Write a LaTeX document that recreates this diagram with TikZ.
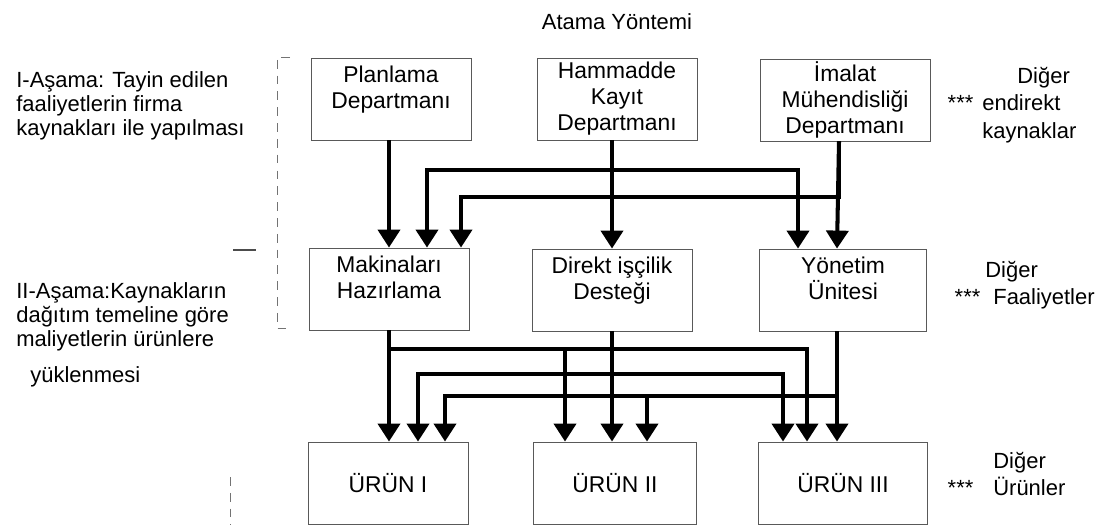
\documentclass[tikz,border=0pt]{standalone}
\usepackage{fontspec}
\setmainfont{Liberation Sans}
\usetikzlibrary{arrows.meta,calc}

\begin{document}
\begin{tikzpicture}[x=0.02cm, y=-0.02cm,
  every node/.style={inner sep=0pt, font=\fontsize{12.5}{14.2}\selectfont},
  box/.style={draw=black!65, line width=0.5pt, minimum width=3.2cm, minimum height=1.64cm, align=center, font=\fontsize{13}{14.8}\selectfont},
  txt/.style={anchor=north west, align=left, font=\fontsize{12.5}{13.6}\selectfont},
  side/.style={anchor=north west, align=left, font=\fontsize{12.5}{15.5}\selectfont},
  flow/.style={-{Triangle[length=0.36cm, width=0.44cm]}, line width=2.3pt},
  brk/.style={black!55, line width=0.4pt, dash pattern=on 5pt off 4pt}]
\useasboundingbox (0,0) rectangle (1109,525);

\node[anchor=north] (title) at (617,13) {Atama Yöntemi};
\node[txt] (s1) at (16,71) {I-Aşama: Tayin edilen\\faaliyetlerin firma\\kaynakları ile yapılması};
\node[txt] (s2) at (16,282) {II-Aşama:Kaynakların\\dağıtım temeline göre\\maliyetlerin ürünlere\\[0.25cm]\hspace*{0.28cm}yüklenmesi};

\node[box] (A1) at (391,99) {Planlama\\Departmanı\\[-6pt]\strut};
\node[box] (A2) at (617,99) {Hammadde\\Kayıt\\Departmanı};
\node[box, minimum width=3.4cm] (A3) at (845,100) {İmalat\\Mühendisliği\\Departmanı};
\node[box] (B1) at (389,289) {Makinaları\\Hazırlama\\[-6pt]\strut};
\node[box] (B2) at (612,290) {Direkt işçilik\\Desteği\\[-6pt]\strut};
\node[box, minimum width=3.34cm] (B3) at (843,290) {Yönetim\\Ünitesi\\[-6pt]\strut};
\node[box] (C1) at (388,483) {ÜRÜN I};
\node[box, minimum width=3.26cm] (C2) at (615,483) {ÜRÜN II};
\node[box, minimum width=3.38cm] (C3) at (843,483) {ÜRÜN III};

\node[side] (r1) at (982,67) {\hspace*{0.7cm}Diğer\\\llap{***\hspace{0.18cm}}endirekt\\kaynaklar};
\node[side] (r2) at (985,261) {Diğer\\\hspace*{0.16cm}\llap{***\hspace{0.26cm}}Faaliyetler};
\node[side] (r3) at (993,452) {Diğer\\\llap{***\hspace{0.4cm}}Ürünler};

\draw[brk] (290,57) -- (277,57) -- (277,328) -- (290,328);
\draw[black!70, line width=0.6pt] (233,250) -- (256,250);
\draw[brk] (230,477) -- (230,525);

\draw[flow] (A1.south -| B1) -- (B1);
\draw[flow] (A2.south -| B2) -- (B2);
\draw[flow] (A2.south -| B2) -- ++(0,30) -| ($(B1.north)+(38,0)$);
\draw[flow] (A2.south -| B2) -- ++(0,30) -| ($(B3.north)+(-45,0)$);
\draw[flow] ($(A3.south)+(-6,0)$) -- ($(B3.north)+(-6,0)$);
\draw[flow] ($(A3.south)+(-6,0)$) -- ++(0,56) -| ($(B1.north)+(72,0)$);

\draw[flow] (B1) -- (B1 |- C1.north);
\draw[flow] (B1.south) -- ++(0,19) -| ($(C2.north)+(-50,0)$);
\draw[flow] (B1.south) -- ++(0,19) -| ($(C3.north)+(-36,0)$);
\draw[flow] (B2) -- (B2 |- C2.north);
\draw[flow] (B2.south) -- ++(0,43) -| ($(C1.north)+(30,0)$);
\draw[flow] (B2.south) -- ++(0,43) -| ($(C3.north)+(-60,0)$);
\draw[flow] ($(B3.south)+(-6,0)$) -- ($(C3.north)+(-6,0)$);
\draw[flow] ($(B3.south)+(-6,0)$) -- ++(0,65) -| ($(C1.north)+(57,0)$);
\draw[flow] ($(B3.south)+(-6,0)$) -- ++(0,65) -| ($(C2.north)+(32,0)$);
\end{tikzpicture}
\end{document}
